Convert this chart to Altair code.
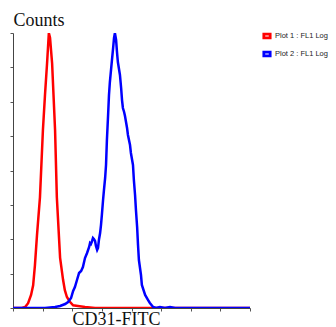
import altair as alt
import pandas as pd

# Plot 1 (red) histogram: channel (log decades) vs counts
red_x = [0, 0.30, 0.41, 0.51, 0.61, 0.68, 0.74, 0.81, 0.91, 1.01, 1.08, 1.15, 1.21, 1.25,
         1.32, 1.42, 1.48, 1.59, 1.69, 1.75, 1.82, 1.92, 2.03, 2.19, 2.43, 2.77, 8]
red_y = [0, 0, 1.5, 7, 19, 33, 62, 106, 161, 259, 310, 356, 400, 393,
         356, 259, 161, 73, 41, 26, 16, 9, 4, 3, 1.5, 0, 0]

# Plot 2 (blue) histogram
blue_x = [0, 0.57, 1.08, 1.42, 1.59, 1.76, 1.86, 1.96, 2.03, 2.09, 2.16, 2.23, 2.30, 2.36,
          2.43, 2.50, 2.57, 2.60, 2.63, 2.67, 2.70, 2.73, 2.77, 2.80, 2.84, 2.87, 2.90, 2.94,
          2.97, 3.00, 3.04, 3.07, 3.11, 3.14, 3.17, 3.21, 3.24, 3.27, 3.34, 3.38, 3.41, 3.44,
          3.48, 3.51, 3.54, 3.61, 3.65, 3.68, 3.71, 3.75, 3.78, 3.85, 3.88, 3.95, 3.98, 4.05,
          4.08, 4.12, 4.15, 4.19, 4.22, 4.25, 4.32, 4.35, 4.46, 4.56, 4.62, 4.73, 4.83, 4.96,
          5.13, 5.30, 5.47, 5.64, 8]
blue_y = [0, 0, 0, 1.5, 2.9, 5.8, 8.7, 14.5, 24.7, 30.5, 40.7, 50.9, 53.8, 59.6,
          72.7, 80, 88.7, 94.5, 93.1, 97.5, 101.8, 100.4, 97.5, 90.2, 84.4, 87.3, 98.9, 109,
          120.7, 135.3, 157.1, 171.6, 189.1, 208, 244.4, 280.7, 309.8, 328.7, 360.7, 378.2, 392.7, 400,
          389.8, 372.4, 357.8, 338.9, 320, 302.5, 290.9, 285.1, 279.3, 261.8, 251.6, 237.1, 225.5, 208,
          186.2, 164.4, 142.5, 117.8, 91.6, 69.8, 48, 33.5, 18.9, 11.6, 7.3, 1.5, 0, 1.5,
          0, 1.5, 0, 0, 0]

series = ["Plot 1 : FL1 Log", "Plot 2 : FL1 Log"]
colors = ["#ff0000", "#0000ff"]
x_ticks = [0, 1, 2, 3, 4, 5, 6, 7, 8]
y_ticks = [0, 50, 100, 150, 200, 250, 300, 350, 400]

df = pd.concat([
    pd.DataFrame({"x": red_x, "y": red_y, "s": series[0], "o": range(len(red_x))}),
    pd.DataFrame({"x": blue_x, "y": blue_y, "s": series[1], "o": range(len(blue_x))}),
])

chart = alt.Chart(df).mark_line(strokeWidth=2.5, clip=True).encode(
    x=alt.X("x:Q", scale=alt.Scale(domain=[0, 8], nice=False),
            axis=alt.Axis(values=x_ticks, labels=False, grid=False, tickSize=3,
                          title="CD31-FITC", titleFont="Liberation Serif", titleFontSize=18,
                          titleFontWeight="normal", titleColor="#111",
                          titleAlign="left", titleAnchor="start", titleX=59, titleY=16,
                          titleBaseline="alphabetic",
                          domainColor="#444", tickColor="#555")),
    y=alt.Y("y:Q", scale=alt.Scale(domain=[0, 400], nice=False),
            axis=alt.Axis(values=y_ticks, labels=False, grid=False, tickSize=3,
                          title="Counts", titleFont="Liberation Serif", titleFontSize=18,
                          titleFontWeight="normal", titleColor="#111", titleAngle=0,
                          titleAlign="left", titleX=0, titleY=-8, titleBaseline="alphabetic",
                          domainColor="#444", tickColor="#555")),
    color=alt.Color("s:N", scale=alt.Scale(domain=series, range=colors),
                    legend=alt.Legend(title=None, orient="none", legendX=249, legendY=-2,
                                      labelFont="Liberation Sans", labelFontSize=7.5,
                                      labelColor="#222", symbolType="M-1,-0.6H1V0.6H-1Z",
                                      symbolSize=40, symbolStrokeWidth=2.8,
                                      labelOffset=3, rowPadding=2)),
    order="o:Q",
).properties(
    width=237, height=275,
    autosize=alt.AutoSizeParams(type="none"),
    padding={"left": 5, "top": 25, "right": 78, "bottom": 23},
).configure_view(stroke=None)

chart.save("out.html", embed_options={"renderer": "svg", "actions": False})
